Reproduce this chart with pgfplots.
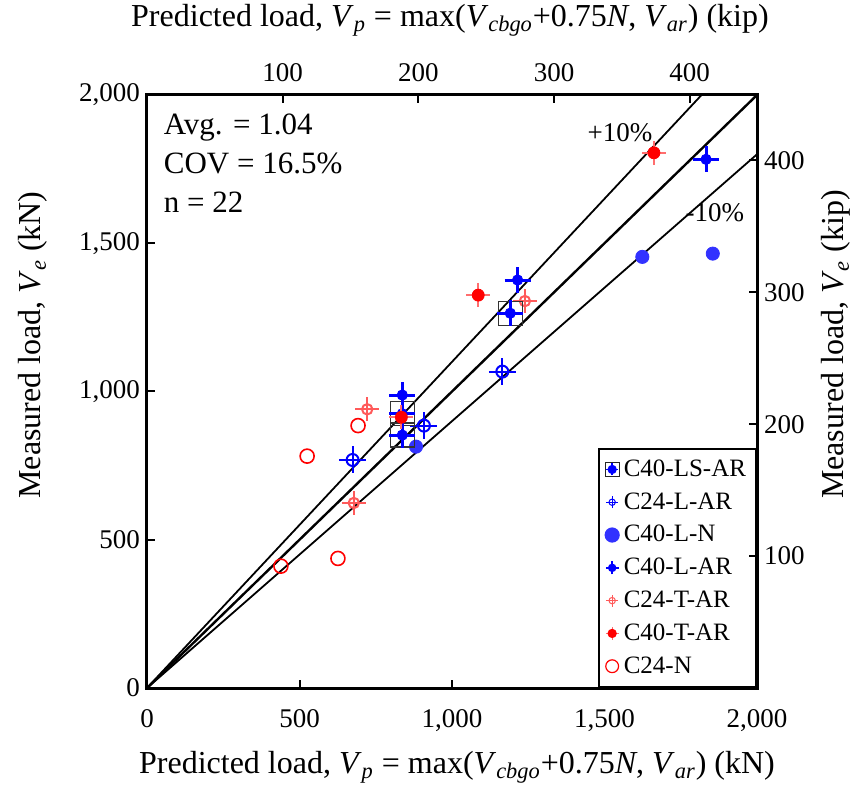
\documentclass[border=0pt]{standalone}
\usepackage{fontspec}
\setmainfont{Liberation Serif}
\usepackage{pgfplots}
\pgfplotsset{compat=1.18}
\usepackage{pgfplotstable}
\definecolor{cblue}{RGB}{0,0,255}
\definecolor{lblue}{RGB}{50,50,255}
\definecolor{cred}{RGB}{255,0,0}
\definecolor{lred}{RGB}{255,90,90}
\definecolor{pred}{RGB}{255,110,110}

\pgfplotstableread{
x y
837 853
837 925
1191 1264
}\LSAR
\pgfplotstableread{
x y
674 769
908 885
1165 1067
}\CLAR
\pgfplotstableread{
x y
882 814
1624 1454
1855 1465
}\LN
\pgfplotstableread{
x y
837 988
1215 1376
1833 1783
}\LAR
\pgfplotstableread{
x y
722 940
678 624
1239 1305
}\CTAR
\pgfplotstableread{
x y
834 913
1086 1325
1662 1805
}\TAR
\pgfplotstableread{
x y
439 411
626 437
525 782
692 885
}\CN

\newcommand{\tickfont}{\fontsize{13.5}{16}\selectfont}
\newcommand{\labfont}{\fontsize{16}{19}\selectfont}

\begin{document}
\begin{tikzpicture}
\begin{axis}[
  name=main,
  scale only axis, width=305pt, height=296.5pt,
  xmin=0, xmax=2000, ymin=0, ymax=2000,
  xtick={0,500,1000,1500,2000}, ytick={0,500,1000,1500,2000},
  xtick pos=bottom, ytick pos=left, tick align=inside,
  major tick length=4pt,
  axis line style={line width=1.5pt},
  tick style={line width=1pt, black},
  ticklabel style={font=\tickfont},
  xticklabel style={yshift=-7pt},
  clip=false,
  legend cell align=left,
  legend style={at={(1,0)}, anchor=south east, draw=black, line width=1pt,
    fill=white, font=\fontsize{12.5}{14}\selectfont, row sep=2.6pt,
    inner xsep=3pt, inner ysep=3.5pt,
    /tikz/every even column/.append style={column sep=0pt}},
  /pgf/number format/1000 sep={,},
  /pgf/number format/assume math mode=true,
]
% reference lines
\addplot[black, line width=0.9pt, forget plot] coordinates {(0,0) (1818.18,2000)};
\addplot[black, line width=1.2pt, forget plot] coordinates {(0,0) (2000,2000)};
\addplot[black, line width=0.9pt, forget plot] coordinates {(0,0) (2000,1800)};

% C24-N
\addplot[only marks, mark=o, mark size=3.5pt, cred, mark options={line width=0.8pt}, forget plot] table {\CN};
% C40-L-N
\addplot[only marks, mark=*, mark size=3.3pt, lblue, mark options={draw=lblue, fill=lblue}, forget plot] table {\LN};
% C24-L-AR
\addplot[only marks, mark=+, mark size=6.75pt, cblue, mark options={line width=1pt}, forget plot] table {\CLAR};
\addplot[only marks, mark=o, mark size=3pt, cblue, mark options={line width=1pt}, forget plot] table {\CLAR};
% C24-T-AR
\addplot[only marks, mark=+, mark size=6pt, lred, mark options={line width=1pt}, forget plot] table {\CTAR};
\addplot[only marks, mark=o, mark size=2.6pt, lred, mark options={line width=1pt}, forget plot] table {\CTAR};
% C40-LS-AR
\addplot[only marks, mark=square, mark size=6pt, black!80, mark options={line width=0.6pt}, forget plot] table {\LSAR};
\addplot[only marks, mark=+, mark size=6.5pt, cblue, mark options={line width=1.5pt}, forget plot] table {\LSAR};
\addplot[only marks, mark=*, mark size=2.6pt, cblue, mark options={draw=cblue, fill=cblue}, forget plot] table {\LSAR};
% C40-L-AR
\addplot[only marks, mark=+, mark size=6.5pt, cblue, mark options={line width=1.5pt}, forget plot] table {\LAR};
\addplot[only marks, mark=*, mark size=2.6pt, cblue, mark options={draw=cblue, fill=cblue}, forget plot] table {\LAR};
% C40-T-AR
\addplot[only marks, mark=+, mark size=6pt, pred, mark options={line width=1pt}, forget plot] table {\TAR};
\addplot[only marks, mark=*, mark size=3pt, cred, mark options={draw=cred, fill=cred}, forget plot] table {\TAR};

% legend
\addlegendimage{legend image code/.code={
  \draw[black!85, line width=0.5pt] (-3.5pt,-3.5pt) rectangle (3.5pt,3.5pt);
  \draw[cblue, line width=0.9pt] (-3pt,0)--(3pt,0) (0,-3pt)--(0,3pt);
  \fill[cblue] (0,0) circle (1.8pt);}}
\addlegendentry{C40-LS-AR}
\addlegendimage{legend image code/.code={
  \draw[cblue, line width=0.5pt] (-3pt,0)--(3pt,0) (0,-3pt)--(0,3pt);
  \draw[cblue, line width=0.5pt] (0,0) circle (1.6pt);}}
\addlegendentry{C24-L-AR}
\addlegendimage{legend image code/.code={
  \fill[lblue] (0,0) circle (3.3pt);}}
\addlegendentry{C40-L-N}
\addlegendimage{legend image code/.code={
  \draw[cblue, line width=0.9pt] (-3.2pt,0)--(3.2pt,0) (0,-3.2pt)--(0,3.2pt);
  \fill[cblue] (0,0) circle (1.6pt);}}
\addlegendentry{C40-L-AR}
\addlegendimage{legend image code/.code={
  \draw[lred, line width=0.5pt] (-3pt,0)--(3pt,0) (0,-3pt)--(0,3pt);
  \draw[lred, line width=0.5pt] (0,0) circle (1.6pt);}}
\addlegendentry{C24-T-AR}
\addlegendimage{legend image code/.code={
  \draw[pred, line width=0.6pt] (-3.2pt,0)--(3.2pt,0) (0,-3.2pt)--(0,3.2pt);
  \fill[cred] (0,0) circle (1.8pt);}}
\addlegendentry{C40-T-AR}
\addlegendimage{legend image code/.code={
  \draw[cred, line width=0.6pt] (0,0) circle (3.2pt);}}
\addlegendentry{C24-N}

\node[font=\tickfont] at (axis cs:1551,1872) {+10\%};
\node[font=\tickfont] at (axis cs:1862,1602) {-10\%};
\node[anchor=north west, align=left, font=\fontsize{15.5}{19.5}\selectfont, inner sep=0pt]
  at (rel axis cs:0.027,0.968) {Avg. = 1.04\\COV = 16.5\%\\n = 22};
\end{axis}

\begin{axis}[
  scale only axis, width=305pt, height=296.5pt,
  xmin=0, xmax=449.618, ymin=0, ymax=449.618,
  axis x line*=top, axis y line*=right,
  xtick={100,200,300,400}, ytick={100,200,300,400},
  tick align=inside, major tick length=4pt,
  axis line style={line width=1.5pt},
  tick style={line width=1pt, black},
  ticklabel style={font=\tickfont},
  xticklabel style={yshift=3pt},
  /pgf/number format/assume math mode=true,
]
\addplot[draw=none] coordinates {(0,0)};
\end{axis}

\node[font=\labfont] at ([shift={(155pt,-39.5pt)}]main.south west)
  {Predicted load, \textit{V}\textsubscript{\textit{p}} = max(\textit{V}\textsubscript{\textit{cbgo}}+0.75\textit{N}, \textit{V}\textsubscript{\textit{ar}}) (kN)};
\node[font=\labfont] at ([shift={(151.5pt,37.5pt)}]main.north west)
  {Predicted load, \textit{V}\textsubscript{\textit{p}} = max(\textit{V}\textsubscript{\textit{cbgo}}+0.75\textit{N}, \textit{V}\textsubscript{\textit{ar}}) (kip)};
\node[font=\labfont, rotate=90] at ([shift={(-57pt,171.5pt)}]main.south west)
  {Measured load, \textit{V}\textsubscript{\textit{e}} (kN)};
\node[font=\labfont, rotate=90, anchor=west] at ([shift={(344.5pt,91pt)}]main.south west)
  {Measured load, \textit{V}\textsubscript{\textit{e}} (kip)};

\pgfresetboundingbox
\path[use as bounding box] ([shift={(-73.5pt,-49.5pt)}]main.south west) rectangle ([shift={(49.5pt,47.5pt)}]main.north east);
\end{tikzpicture}
\end{document}
